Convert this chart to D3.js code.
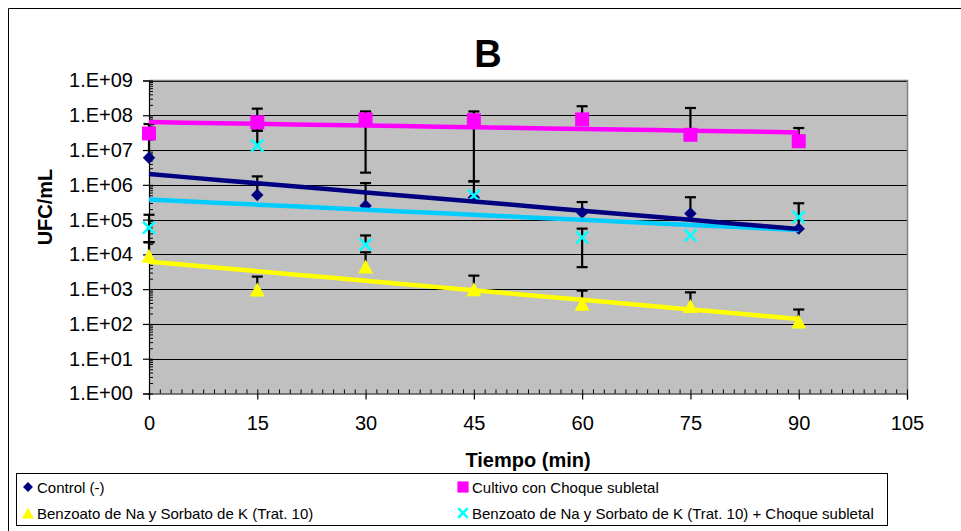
<!DOCTYPE html>
<html>
<head>
<meta charset="utf-8">
<script src="https://cdn.jsdelivr.net/npm/d3@7"></script>
<style>
  html, body { margin: 0; padding: 0; background: #fff; }
  svg { display: block; font-family: Arial, "Liberation Sans", sans-serif; }
</style>
</head>
<body>
<svg id="chart" width="961" height="531"></svg>
<script>
// Sampling times (min)
const times = [0, 15, 30, 45, 60, 75, 90];

// UFC/mL per series
const control      = [6.0e6, 5.1e5, 2.5e5, 4.3e5, 1.6e5, 1.5e5, 5.5e4];
const controlHi    = [5.6e7, 1.75e6, 1.12e6, 1.26e6, 3.2e5, 4.4e5, 2.95e5];
const controlLo    = [null, null, null, null, null, null, null];

const choque       = [3.0e7, 6.3e7, 7.6e7, 7.2e7, 7.6e7, 2.75e7, 1.8e7];
const choqueHi     = [null, 1.55e8, 1.29e8, 1.29e8, 1.82e8, 1.62e8, 4.3e7];
const choqueLo     = [null, 3.6e7, 2.24e6, 1.26e6, null, null, null];

const trat10       = [9.1e3, 9.8e2, 4.5e3, 1.0e3, 3.8e2, 3.3e2, 1.17e2];
const trat10Hi     = [2.24e4, 2.3e3, 1.15e4, 2.45e3, 9.1e2, 8.1e2, 2.6e2];
const trat10Lo     = [null, null, null, null, null, null, null];

const trat10Choque   = [5.9e4, 1.35e7, 1.9e4, 4.9e5, 3.1e4, 3.5e4, 1.17e5];
const trat10ChoqueHi = [1.38e5, 3.6e7, 3.5e4, null, 5.5e4, null, null];
const trat10ChoqueLo = [2.24e4, null, null, null, 4.3e3, null, null];

// Axis ticks
const xTicks = [0, 15, 30, 45, 60, 75, 90, 105];
const yTicks = [1e0, 1e1, 1e2, 1e3, 1e4, 1e5, 1e6, 1e7, 1e8, 1e9];

const legendLabels = [
  "Control (-)",
  "Cultivo con Choque subletal",
  "Benzoato de Na y Sorbato de K (Trat. 10)",
  "Benzoato de Na y Sorbato de K (Trat. 10) + Choque subletal"
];

const series = [
  { name: legendLabels[0], values: control, hi: controlHi, lo: controlLo,
    marker: "diamond", color: "#000080", trend: "#000080" },
  { name: legendLabels[1], values: choque, hi: choqueHi, lo: choqueLo,
    marker: "square", color: "#FF00FF", trend: "#FF00FF" },
  { name: legendLabels[2], values: trat10, hi: trat10Hi, lo: trat10Lo,
    marker: "triangle", color: "#FFFF00", trend: "#FFFF00" },
  { name: legendLabels[3], values: trat10Choque, hi: trat10ChoqueHi, lo: trat10ChoqueLo,
    marker: "x", color: "#00FFFF", trend: "#00CCFF" }
];

const svg = d3.select("#chart");
const plot = { left: 149, right: 907, top: 80.5, bottom: 393.5 };

const x = d3.scaleLinear().domain([0, 105]).range([plot.left, plot.right]);
const y = d3.scaleLog().domain([1, 1e9]).range([plot.bottom, plot.top]);

// Outer chart frame
svg.append("path")
  .attr("d", "M8.5,531 V8.5 H961")
  .attr("fill", "none").attr("stroke", "#000").attr("stroke-width", 1);

// Title
svg.append("text").attr("x", 488).attr("y", 67)
  .attr("text-anchor", "middle").attr("font-weight", "bold").attr("font-size", 38)
  .text("B");

// Plot background
svg.append("rect")
  .attr("x", plot.left).attr("y", plot.top)
  .attr("width", plot.right - plot.left).attr("height", plot.bottom - plot.top)
  .attr("fill", "#C0C0C0");

// Gridlines at each decade
svg.append("g").selectAll("line").data(yTicks.slice(1)).join("line")
  .attr("x1", plot.left).attr("x2", plot.right)
  .attr("y1", d => Math.round(y(d)) + 0.5).attr("y2", d => Math.round(y(d)) + 0.5)
  .attr("stroke", "#000").attr("stroke-width", 1);

// Plot frame (top and right)
svg.append("path")
  .attr("d", `M${plot.left},${plot.top} H${plot.right + 0.5} V${plot.bottom}`)
  .attr("fill", "none").attr("stroke", "#808080").attr("stroke-width", 1.5);

// Y axis: decade labels with outside ticks
const fmt = d => "1.E+" + String(Math.round(Math.log10(d))).padStart(2, "0");
const yAxis = svg.append("g").attr("transform", `translate(${plot.left},0)`)
  .call(d3.axisLeft(y).tickValues(yTicks).tickFormat(fmt).tickSize(6).tickPadding(10));
yAxis.selectAll("text").attr("font-size", 20).attr("fill", "#000")
  .attr("font-family", "Arial, 'Liberation Sans', sans-serif");

// Y minor ticks inside
const yMinor = [];
for (let e = 0; e < 9; e++) for (let m = 1; m <= 9; m++) yMinor.push(m * Math.pow(10, e));
yMinor.push(1e9);
svg.append("g").attr("transform", `translate(${plot.left},0)`)
  .call(d3.axisRight(y).tickValues(yMinor).tickFormat("").tickSize(4))
  .call(g => g.select(".domain").remove());

// X axis
const xAxis = svg.append("g").attr("transform", `translate(0,${plot.bottom})`)
  .call(d3.axisBottom(x).tickValues(xTicks).tickSize(6).tickPadding(16));
xAxis.selectAll("text").attr("font-size", 20).attr("fill", "#000")
  .attr("font-family", "Arial, 'Liberation Sans', sans-serif");

// X minor ticks inside every 1.5 min
const xMinor = d3.range(0, 71).map(i => i * 1.5);
svg.append("g").attr("transform", `translate(0,${plot.bottom})`)
  .call(d3.axisTop(x).tickValues(xMinor).tickFormat("").tickSize(4))
  .call(g => g.select(".domain").remove());

[yAxis, xAxis].forEach(g => {
  g.selectAll("line, path").attr("stroke", "#000").attr("stroke-width", 1.2);
});

// Axis titles
svg.append("text").attr("x", (plot.left + plot.right) / 2).attr("y", 467)
  .attr("text-anchor", "middle").attr("font-weight", "bold").attr("font-size", 20)
  .text("Tiempo (min)");
svg.append("text")
  .attr("transform", "translate(52,207) rotate(-90)")
  .attr("text-anchor", "middle").attr("font-weight", "bold").attr("font-size", 20)
  .text("UFC/mL");

// Marker drawing
function drawMarker(g, type, color, s) {
  if (type === "diamond") {
    const r = 6.2 * s;
    g.append("path").attr("d", `M0,${-r}L${r},0L0,${r}L${-r},0Z`).attr("fill", color);
  } else if (type === "square") {
    const h = 7 * s;
    g.append("rect").attr("x", -h).attr("y", -h).attr("width", 2 * h).attr("height", 2 * h).attr("fill", color);
  } else if (type === "triangle") {
    const w = 7.5 * s, h = 7 * s;
    g.append("path").attr("d", `M0,${-h}L${w},${h}L${-w},${h}Z`).attr("fill", color);
  } else if (type === "x") {
    const r = 6 * s;
    g.append("path").attr("d", `M${-r},${-r}L${r},${r}M${-r},${r}L${r},${-r}`)
      .attr("stroke", color).attr("stroke-width", 2.5).attr("fill", "none");
  }
}

// Error bars
const errG = svg.append("g").attr("stroke", "#000").attr("stroke-width", 2.2);
series.forEach(s => {
  s.values.forEach((v, i) => {
    [s.hi[i], s.lo[i]].forEach(b => {
      if (b == null) return;
      const cx = x(times[i]);
      errG.append("line").attr("x1", cx).attr("x2", cx).attr("y1", y(v)).attr("y2", y(b));
      errG.append("line").attr("x1", cx - 5.5).attr("x2", cx + 5.5).attr("y1", y(b)).attr("y2", y(b));
    });
  });
});

// Data markers
series.forEach(s => {
  s.values.forEach((v, i) => {
    const g = svg.append("g").attr("transform", `translate(${x(times[i])},${y(v)})`);
    drawMarker(g, s.marker, s.color, 1);
  });
});

// Exponential trendlines (least squares on ln y)
function expFit(xs, vs) {
  const ls = vs.map(Math.log);
  const mx = d3.mean(xs), ml = d3.mean(ls);
  const b = d3.sum(xs.map((xi, i) => (xi - mx) * (ls[i] - ml))) / d3.sum(xs.map(xi => (xi - mx) ** 2));
  const a = ml - b * mx;
  return t => Math.exp(a + b * t);
}
const trendOrder = [1, 2, 3, 0];
const line = d3.line().x(d => x(d[0])).y(d => y(d[1]));
trendOrder.forEach(k => {
  const s = series[k];
  const f = expFit(times, s.values);
  const pts = d3.range(0, 91, 5).map(t => [t, f(t)]);
  svg.append("path").attr("d", line(pts))
    .attr("fill", "none").attr("stroke", s.trend).attr("stroke-width", 4.5);
});

// Legend
const lg = svg.append("g");
lg.append("rect").attr("x", 16.5).attr("y", 473.5).attr("width", 871).attr("height", 52)
  .attr("fill", "#fff").attr("stroke", "#000").attr("stroke-width", 1);
const legendPos = [[28, 487], [463, 487], [28, 513], [463, 513]];
series.forEach((s, i) => {
  const [lx, ly] = legendPos[i];
  const g = lg.append("g").attr("transform", `translate(${lx},${ly})`);
  drawMarker(g, s.marker, s.color, 0.8);
  lg.append("text").attr("x", lx + 9).attr("y", ly + 5.5)
    .attr("font-size", 15).attr("fill", "#000").text(s.name);
});
</script>
</body>
</html>
